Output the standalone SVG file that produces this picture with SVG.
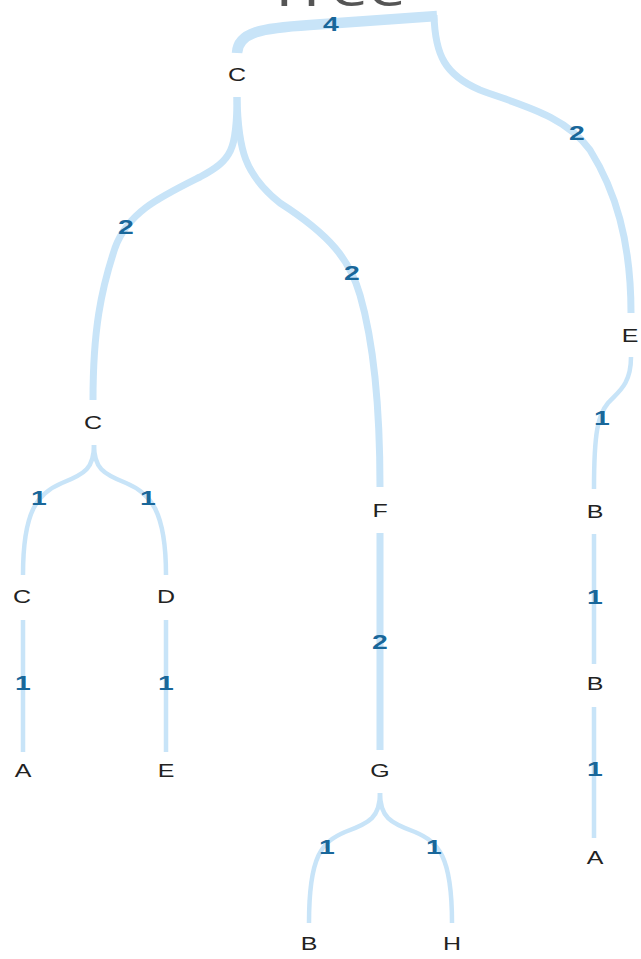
<svg xmlns="http://www.w3.org/2000/svg" width="641" height="959" viewBox="0 0 641 959">
  <style>
    .link { fill: none; stroke: #c8e4f8; stroke-linecap: butt; }
    .w4 { stroke-width: 10.5; }
    .w2 { stroke-width: 7; }
    .w1 { stroke-width: 4.5; }
    .node text { font-family: "Liberation Sans", Arial, sans-serif; font-size: 18.5px; fill: #222; text-anchor: middle; }
    .val { font-family: "Liberation Sans", Arial, sans-serif; font-size: 21px; font-weight: bold; fill: #19679a; text-anchor: middle; }
    .title { font-family: "Open Sans", "Liberation Sans", sans-serif; font-size: 50px; fill: #555; text-anchor: middle; }
  </style>
  <rect width="641" height="959" fill="#ffffff"/>

  <!-- chart title, mostly above the top edge -->
  <text class="title" transform="translate(336 6) scale(1.35 1)">Tree</text>

  <!-- connectors, stroke width follows the value -->
  <g id="links">
    <path class="link w4" d="M237,53 C238,32 262,28 310,25 L437,16"/>
    <path class="link w2" d="M434,15 C435,55 445,75 480,90 C520,105 565,115 590,150 C615,190 631,240 631,313"/>
    <path class="link w2" d="M237,97 C237,150 232,160 200,177 C160,197 128,212 115,248 C101,290 93,330 93,400"/>
    <path class="link w2" d="M237,97 C238,150 245,175 280,203 C330,235 350,260 360,295 C373,340 380,400 380,487"/>
    <path class="link w1" d="M94,445 C94,468 85,474 62,483 C38,493 23,510 23,575"/>
    <path class="link w1" d="M94,445 C94,468 103,474 126,483 C150,493 166,510 166,575"/>
    <path class="link w1" d="M23,620 L23,752"/>
    <path class="link w1" d="M166,620 L166,752"/>
    <path class="link w2" d="M380,533 L380,750"/>
    <path class="link w1" d="M380,793 C380,817 370,823 345,832 C322,842 309,855 309,923"/>
    <path class="link w1" d="M380,793 C380,817 390,823 415,832 C438,842 452,855 452,923"/>
    <path class="link w1" d="M631,357 C631,385 618,392 608,403 C598,415 594,432 594,489"/>
    <path class="link w1" d="M594,534 L594,664"/>
    <path class="link w1" d="M594,707 L594,838"/>

    <!-- link values -->
    <text class="val" transform="translate(331 31) scale(1.35 1)">4</text>
    <text class="val" transform="translate(577 140) scale(1.35 1)">2</text>
    <text class="val" transform="translate(126 234) scale(1.35 1)">2</text>
    <text class="val" transform="translate(352 280) scale(1.35 1)">2</text>
    <text class="val" transform="translate(380 649) scale(1.35 1)">2</text>
    <text class="val" transform="translate(39 505) scale(1.35 1)">1</text>
    <text class="val" transform="translate(148 505) scale(1.35 1)">1</text>
    <text class="val" transform="translate(23 690) scale(1.35 1)">1</text>
    <text class="val" transform="translate(166 690) scale(1.35 1)">1</text>
    <text class="val" transform="translate(327 854) scale(1.35 1)">1</text>
    <text class="val" transform="translate(434 854) scale(1.35 1)">1</text>
    <text class="val" transform="translate(602 425) scale(1.35 1)">1</text>
    <text class="val" transform="translate(595 604) scale(1.35 1)">1</text>
    <text class="val" transform="translate(595 776) scale(1.35 1)">1</text>
  </g>

  <!-- nodes -->
  <g id="node-c0" class="node" transform="translate(237 81)"><text transform="scale(1.35 1)">C</text></g>
  <g id="node-c1" class="node" transform="translate(93 429)"><text transform="scale(1.35 1)">C</text></g>
  <g id="node-f" class="node" transform="translate(380 517)"><text transform="scale(1.35 1)">F</text></g>
  <g id="node-e1" class="node" transform="translate(630 342)"><text transform="scale(1.35 1)">E</text></g>
  <g id="node-c2" class="node" transform="translate(22 603)"><text transform="scale(1.35 1)">C</text></g>
  <g id="node-d" class="node" transform="translate(166 603)"><text transform="scale(1.35 1)">D</text></g>
  <g id="node-a1" class="node" transform="translate(23 777)"><text transform="scale(1.35 1)">A</text></g>
  <g id="node-e2" class="node" transform="translate(166 777)"><text transform="scale(1.35 1)">E</text></g>
  <g id="node-g" class="node" transform="translate(380 777)"><text transform="scale(1.35 1)">G</text></g>
  <g id="node-b3" class="node" transform="translate(309 950)"><text transform="scale(1.35 1)">B</text></g>
  <g id="node-h" class="node" transform="translate(452 950)"><text transform="scale(1.35 1)">H</text></g>
  <g id="node-b1" class="node" transform="translate(595 518)"><text transform="scale(1.35 1)">B</text></g>
  <g id="node-b2" class="node" transform="translate(595 690)"><text transform="scale(1.35 1)">B</text></g>
  <g id="node-a2" class="node" transform="translate(595 864)"><text transform="scale(1.35 1)">A</text></g>
</svg>
